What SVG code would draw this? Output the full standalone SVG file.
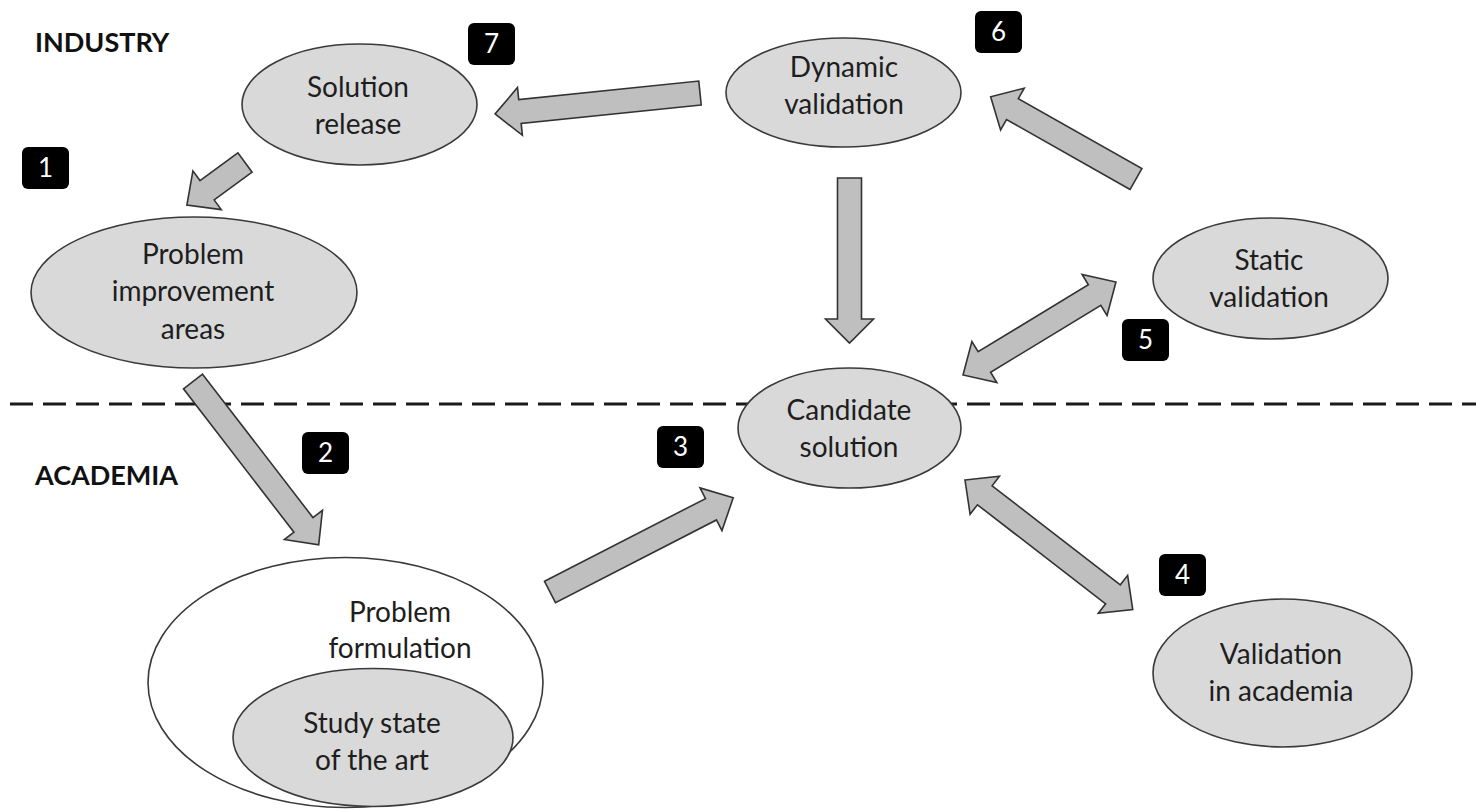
<svg xmlns="http://www.w3.org/2000/svg" width="1476" height="811" viewBox="0 0 1476 811">
<style>
.node{fill:#d9d9d9;stroke:#3a3a3a;stroke-width:1.6}
.white{fill:#ffffff;stroke:#3a3a3a;stroke-width:1.6}
.lbl{font-family:Lato,"Liberation Sans",sans-serif;font-size:28px;fill:#1e1e1e;text-anchor:middle}
.zone{font-family:Lato,"Liberation Sans",sans-serif;font-size:27px;font-weight:bold;fill:#111}
.arrow{fill:#bfbfbf;stroke:#333;stroke-width:1.6;stroke-linejoin:miter}
.badge rect{fill:#000}
.badge text{font-family:Lato,"Liberation Sans",sans-serif;font-size:26px;fill:#fff;text-anchor:middle}
</style>
<rect width="1476" height="811" fill="#ffffff"/>
<line id="divider" x1="10" y1="404" x2="1476" y2="404" stroke="#1a1a1a" stroke-width="3" stroke-dasharray="23 10"/>
<text class="zone" x="35" y="52">INDUSTRY</text>
<text class="zone" x="35" y="485">ACADEMIA</text>
<g id="connectors">
  <!-- 7: dynamic -> release -->
  <polygon class="arrow" transform="translate(700,93) rotate(174.15)" points="0,-12 181,-12 181,-24 206,0 181,24 181,12 0,12"/>
  <!-- 1: release -> problem improvement -->
  <polygon class="arrow" transform="translate(245,162.5) rotate(143.8)" points="0,-12 47,-12 47,-24 72,0 47,24 47,12 0,12"/>
  <!-- 2: improvement -> formulation -->
  <polygon class="arrow" transform="translate(193,381.5) rotate(52.4)" points="0,-12 181,-12 181,-24 206,0 181,24 181,12 0,12"/>
  <!-- 3: formulation -> candidate -->
  <polygon class="arrow" transform="translate(550,592) rotate(-27.2)" points="0,-12 181,-12 181,-24 206,0 181,24 181,12 0,12"/>
  <!-- dynamic -> candidate -->
  <polygon class="arrow" transform="translate(849.5,178) rotate(90)" points="0,-12 141,-12 141,-24 165,0 141,24 141,12 0,12"/>
  <!-- 6: static -> dynamic -->
  <polygon class="arrow" transform="translate(1136,179) rotate(-150.5)" points="0,-12 142,-12 142,-24 167,0 142,24 142,12 0,12"/>
  <!-- 5: candidate <-> static -->
  <polygon class="arrow" transform="translate(963,375) rotate(-31.3)" points="0,0 25,-24 25,-12 154,-12 154,-24 179,0 154,24 154,12 25,12 25,24"/>
  <!-- 4: candidate <-> validation in academia -->
  <polygon class="arrow" transform="translate(965,480) rotate(37.7)" points="0,0 25,-24 25,-12 187,-12 187,-24 212,0 187,24 187,12 25,12 25,24"/>
</g>
<g id="solution-release">
  <ellipse class="node" cx="359.5" cy="104.5" rx="117.5" ry="60.5"/>
  <text class="lbl" x="358" y="97">Solution</text>
  <text class="lbl" x="358" y="134">release</text>
</g>
<g id="dynamic-validation">
  <ellipse class="node" cx="843.5" cy="92.5" rx="117.5" ry="54.5"/>
  <text class="lbl" x="844" y="77">Dynamic</text>
  <text class="lbl" x="844" y="114">validation</text>
</g>
<g id="static-validation">
  <ellipse class="node" cx="1270.5" cy="278.5" rx="117.5" ry="60.5"/>
  <text class="lbl" x="1269" y="270">Static</text>
  <text class="lbl" x="1269" y="307">validation</text>
</g>
<g id="problem-improvement-areas">
  <ellipse class="node" cx="194" cy="292.5" rx="163" ry="75.5"/>
  <text class="lbl" x="193" y="264">Problem</text>
  <text class="lbl" x="193" y="301">improvement</text>
  <text class="lbl" x="193" y="339">areas</text>
</g>
<g id="candidate-solution">
  <ellipse class="node" cx="849.5" cy="428" rx="111.5" ry="60"/>
  <text class="lbl" x="849" y="420">Candidate</text>
  <text class="lbl" x="849" y="457">solution</text>
</g>
<g id="validation-in-academia">
  <ellipse class="node" cx="1282.5" cy="673" rx="129.5" ry="74"/>
  <text class="lbl" x="1281" y="664">Validation</text>
  <text class="lbl" x="1281" y="701">in academia</text>
</g>
<g id="problem-formulation">
  <ellipse class="white" cx="345.5" cy="682.5" rx="197.5" ry="125"/>
  <text class="lbl" x="400" y="622">Problem</text>
  <text class="lbl" x="400" y="658">formulation</text>
</g>
<g id="study-state-of-the-art">
  <ellipse class="node" cx="373" cy="737.5" rx="140" ry="69"/>
  <text class="lbl" x="372" y="733">Study state</text>
  <text class="lbl" x="372" y="770">of the art</text>
</g>
<g id="badge-1" class="badge"><rect x="22" y="147" width="47" height="42" rx="6"/><text x="45.5" y="177">1</text></g>
<g id="badge-2" class="badge"><rect x="302" y="432" width="47" height="42" rx="6"/><text x="325.5" y="462">2</text></g>
<g id="badge-3" class="badge"><rect x="657" y="426" width="47" height="42" rx="6"/><text x="680.5" y="456">3</text></g>
<g id="badge-4" class="badge"><rect x="1159" y="554" width="47" height="42" rx="6"/><text x="1182.5" y="584">4</text></g>
<g id="badge-5" class="badge"><rect x="1122" y="319" width="47" height="42" rx="6"/><text x="1145.5" y="349">5</text></g>
<g id="badge-6" class="badge"><rect x="975" y="11" width="47" height="42" rx="6"/><text x="998.5" y="41">6</text></g>
<g id="badge-7" class="badge"><rect x="468" y="23" width="47" height="42" rx="6"/><text x="491.5" y="53">7</text></g>
</svg>
